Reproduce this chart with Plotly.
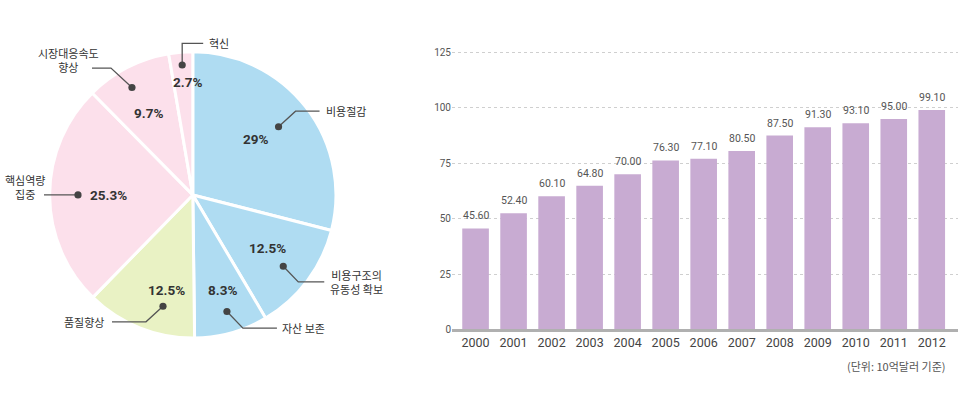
import math
import plotly.graph_objects as go

# ---------------- data ----------------
pie_labels = ["비용절감", "비용구조의<br>유동성 확보", "자산 보존", "품질향상",
              "핵심역량<br>집중", "시장대응속도<br>향상", "혁신"]
pie_values = [29, 12.5, 8.3, 12.5, 25.3, 9.7, 2.7]
pie_pct_text = ["29%", "12.5%", "8.3%", "12.5%", "25.3%", "9.7%", "2.7%"]

years = ["2000", "2001", "2002", "2003", "2004", "2005", "2006",
         "2007", "2008", "2009", "2010", "2011", "2012"]
bar_values = [45.6, 52.4, 60.1, 64.8, 70.0, 76.3, 77.1, 80.5, 87.5, 91.3, 93.1, 95.0, 99.1]
bar_value_labels = ["45.60", "52.40", "60.10", "64.80", "70.00", "76.30", "77.10",
                    "80.50", "87.50", "91.30", "93.10", "95.00", "99.10"]
y_ticks = [0, 25, 50, 75, 100, 125]
unit_note = "(단위: 10억달러 기준)"

# ---------------- style ----------------
W, H = 960, 395
BLUE, GREEN, PINK = "#afdcf2", "#e9f2c4", "#fce0eb"
slice_colors = [BLUE, BLUE, BLUE, GREEN, PINK, PINK, PINK]
BAR_COLOR = "#c8abd2"
KFONT = "Noto Sans CJK KR"
NFONT = "Liberation Sans Narrow, Roboto, sans-serif"

# pie geometry (pixels)
CX, CY, R = 192.8, 196.4, 143.5
R_DOMAIN = R + 3  # compensates for the white outline
# per-slice label placement style (radius fraction, angle tweak in degrees)
pct_r = [0.59, 0.645, 0.71, 0.70, 0.59, 0.66, 0.805]
pct_dth = [-4.3, -1.0, -1.3, -6.8, 0.0, -0.4, 2.4]
dot_r = [0.77, 0.81, 0.865, 0.82, 0.80, 0.875, 0.93]
dot_dth = [-1.3, 2.0, -0.3, -7.1, 0.2, -1.8, 0.3]
# leader: elbow offset (dx, dy), horizontal run
leader = [(17, -16, 24), (15, 16, 26), (16, 17, 34), (-17, 16, -34),
          (0, 0, -34), (-21, -20, -19), (0, -22, 21)]
# label offset from leader end: (dx, dy, xanchor)
lab_off = [(4, 0, "left"), (4, 0, "left"), (3, 0, "left"), (-6, 0, "right"),
           (-19, -8, "center"), (-23, -8, "center"), (4, 0, "left")]


def px(x):
    return x / W


def py(y):
    return 1 - y / H


def polar(theta_deg, r):
    t = math.radians(theta_deg)
    return CX + r * math.sin(t), CY - r * math.cos(t)


fig = go.Figure()

# pie
fig.add_trace(go.Pie(
    labels=[l.replace("<br>", " ") for l in pie_labels],
    values=pie_values,
    sort=False,
    direction="clockwise",
    rotation=0,
    marker=dict(colors=slice_colors, line=dict(color="white", width=3)),
    textinfo="none",
    hoverinfo="label+percent",
    showlegend=False,
    domain=dict(x=[px(CX - R_DOMAIN), px(CX + R_DOMAIN)],
                y=[py(CY + R_DOMAIN), py(CY - R_DOMAIN)]),
))

shapes = []
annotations = []
total = sum(pie_values)
cum = 0.0
for i, v in enumerate(pie_values):
    mid = (cum + v / 2) / total * 360
    cum += v
    # percentage text
    tx, ty = polar(mid + pct_dth[i], pct_r[i] * R)
    annotations.append(dict(x=px(tx), y=py(ty), xref="paper", yref="paper",
                            text="<b>" + pie_pct_text[i] + "</b>", showarrow=False,
                            xanchor="center", yanchor="middle",
                            font=dict(family=NFONT, size=13.5, color="#333333")))
    # dot and leader
    dx, dy = polar(mid + dot_dth[i], dot_r[i] * R)
    ex, ey = dx + leader[i][0], dy + leader[i][1]
    hx = ex + leader[i][2]
    shapes.append(dict(type="path", xref="paper", yref="paper",
                       path=f"M {px(dx)},{py(dy)} L {px(ex)},{py(ey)} L {px(hx)},{py(ey)}",
                       line=dict(color="#555555", width=1.3), layer="above"))
    rr = 3.6
    shapes.append(dict(type="circle", xref="paper", yref="paper",
                       x0=px(dx - rr), x1=px(dx + rr), y0=py(dy + rr), y1=py(dy - rr),
                       fillcolor="#444444", line=dict(width=0), layer="above"))
    ox, oy, anc = lab_off[i]
    annotations.append(dict(x=px(hx + ox), y=py(ey + oy), xref="paper", yref="paper",
                            text=pie_labels[i], showarrow=False,
                            xanchor=anc, yanchor="middle", align="center",
                            font=dict(family=KFONT, size=11, color="#333333")))

# bars
fig.add_trace(go.Bar(
    x=years, y=bar_values,
    marker=dict(color=BAR_COLOR, line=dict(width=0)),
    showlegend=False, hoverinfo="x+y",
    xaxis="x", yaxis="y",
))
for idx, (v, lab) in enumerate(zip(bar_values, bar_value_labels)):
    annotations.append(dict(x=idx, y=v, xref="x", yref="y", text=lab, showarrow=False,
                            xanchor="center", yanchor="middle", yshift=12.5,
                            font=dict(family=NFONT, size=10.5, color="#555555")))

Y0_PX, Y125_PX = 334, 50.7
unit_px = (Y0_PX - Y125_PX) / 125
y_max = 126
fig.update_layout(
    width=W, height=H,
    margin=dict(l=0, r=0, t=0, b=0),
    paper_bgcolor="white", plot_bgcolor="white",
    bargap=0.3,
    xaxis=dict(domain=[px(452), px(958)], range=[-0.62, 12.69], type="category",
               showgrid=False, showline=True, linecolor="#b0b0b0", linewidth=2.5,
               ticks="", tickfont=dict(family=NFONT, size=12.5, color="#444444"),
               fixedrange=True),
    yaxis=dict(domain=[py(Y0_PX), py(Y0_PX - y_max * unit_px)], range=[0, y_max],
               tickvals=y_ticks, ticktext=[str(t) for t in y_ticks],
               showgrid=True, gridcolor="#cfcfcf", gridwidth=1, griddash="dot",
               zeroline=False, showline=False, ticks="",
               tickfont=dict(family=NFONT, size=10, color="#555555"),
               fixedrange=True),
    shapes=shapes,
    annotations=annotations + [dict(
        x=px(947), y=py(371), xref="paper", yref="paper", text=unit_note,
        showarrow=False, xanchor="right", yanchor="middle",
        font=dict(family=KFONT, size=11, color="#555555"))],
)

fig.write_html("out.html", config={"displayModeBar": False},
               post_script="document.body.style.margin='0';")
